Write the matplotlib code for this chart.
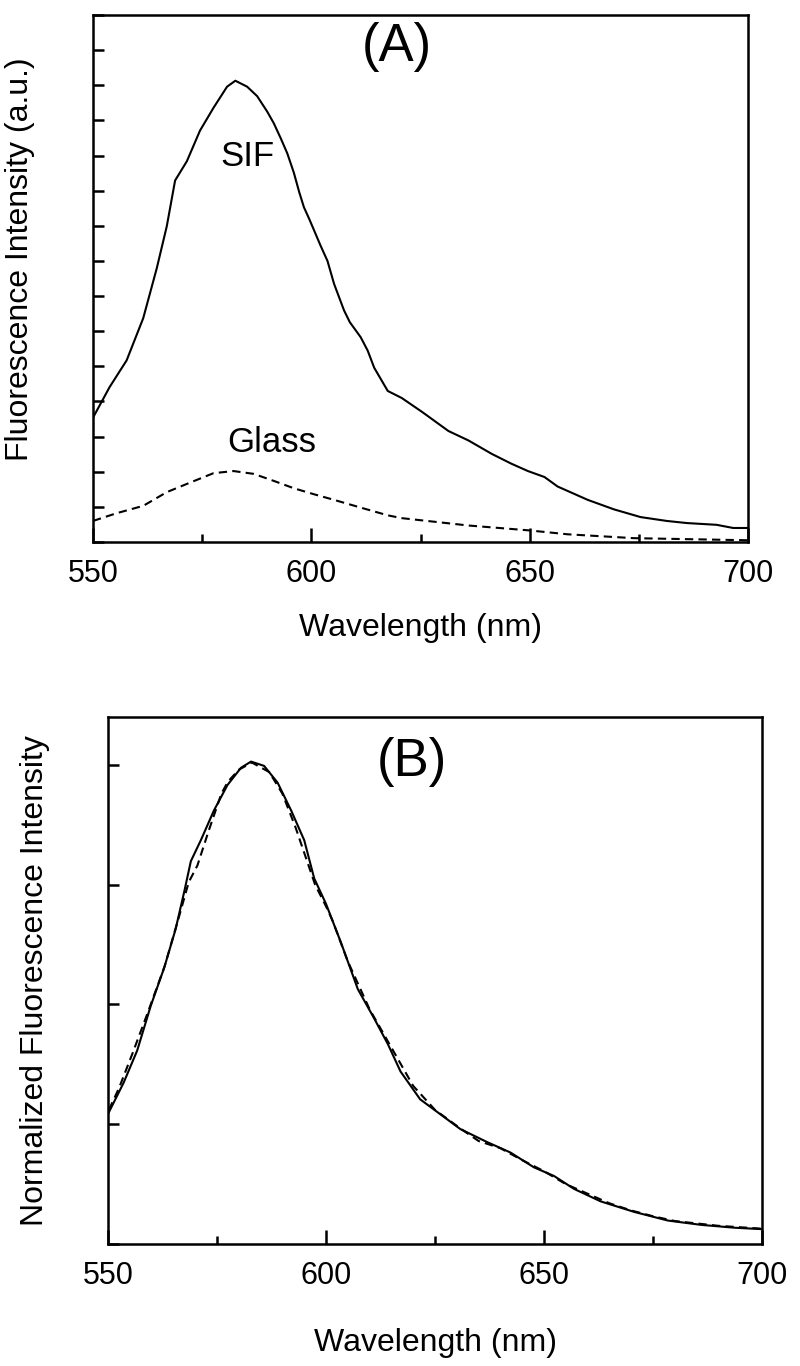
import matplotlib
matplotlib.use('Agg')
import matplotlib.pyplot as plt
import numpy as np

plt.rcParams['font.family'] = ['Liberation Sans', 'DejaVu Sans']

# panel A: raw spectra (a.u.)
sif_wl = [550.0, 553.8, 557.7, 561.5, 564.6, 566.9, 568.8, 571.5, 574.5, 577.6,
          580.7, 582.6, 585.3, 587.6, 589.9, 591.4, 593.0, 594.5, 596.0, 597.2,
          598.3, 599.5, 600.6, 602.1, 603.7, 605.2, 607.5, 608.8, 611.3, 612.9,
          614.4, 617.5, 620.7, 625.4, 631.4, 636.0, 641.3, 645.8,
          649.6, 653.4, 656.4, 663.3, 669.3, 675.4, 681.4, 686.0, 692.8, 696.6, 700.0]
sif_int = [3.54, 4.41, 5.17, 6.37, 7.79, 8.99, 10.29, 10.84, 11.71, 12.36,
           12.96, 13.13, 12.96, 12.69, 12.25, 11.92, 11.49, 11.06, 10.51, 9.97,
           9.53, 9.20, 8.88, 8.44, 8.00, 7.35, 6.59, 6.26, 5.83, 5.45,
           4.96, 4.30, 4.10, 3.70, 3.16, 2.89, 2.51, 2.23,
           2.02, 1.85, 1.58, 1.20, 0.93, 0.71, 0.60, 0.54, 0.49, 0.40, 0.40]

glass_wl = [550.0, 555.4, 561.5, 566.9, 572.2, 577.6, 582.2, 586.8, 591.4, 596.0,
            600.6, 605.2, 611.3, 617.5, 620.7, 636.0, 650.0, 658.7, 673.9, 700.0]
glass_int = [0.60, 0.82, 1.03, 1.42, 1.69, 1.96, 2.02, 1.94, 1.74, 1.53,
             1.36, 1.20, 0.98, 0.76, 0.68, 0.47, 0.33, 0.22, 0.11, 0.05]

# panel B: normalized spectra
sifn_wl = [550.2, 553.6, 556.7, 559.8, 562.9, 565.5, 567.5, 569.0, 571.3, 574.3,
           577.4, 580.5, 582.8, 585.8, 588.9, 592.0, 595.0, 597.3, 600.0, 603.4,
           607.3, 611.1, 614.2, 617.1, 621.6, 626.2, 630.8, 636.9, 642.3, 647.7,
           652.3, 656.9, 663.0, 670.7, 678.4, 686.0, 693.7, 700.0]
sifn_int = [0.275, 0.337, 0.404, 0.497, 0.577, 0.657, 0.736, 0.799, 0.843, 0.905,
            0.958, 0.994, 1.007, 0.998, 0.963, 0.905, 0.843, 0.763, 0.710, 0.630,
            0.532, 0.470, 0.417, 0.360, 0.302, 0.271, 0.240, 0.213, 0.191, 0.160,
            0.142, 0.115, 0.089, 0.067, 0.049, 0.040, 0.034, 0.031]

glassn_wl = [550.2, 552.5, 555.5, 559.0, 563.0, 566.5, 568.5, 570.5, 573.0, 576.0,
             577.5, 580.0, 583.0, 587.0, 590.0, 593.0, 596.0, 597.5, 600.0, 601.5,
             605.0, 610.0, 615.0, 620.0, 625.0, 631.0, 635.0, 640.0, 645.0, 650.0,
             655.0, 660.0, 665.0, 670.0, 675.0, 680.0, 685.0, 690.0, 700.0]
glassn_int = [0.280, 0.325, 0.395, 0.480, 0.580, 0.690, 0.755, 0.790, 0.860, 0.940,
              0.965, 0.990, 1.005, 0.985, 0.940, 0.870, 0.790, 0.750, 0.705, 0.675,
              0.590, 0.490, 0.410, 0.330, 0.280, 0.240, 0.215, 0.200, 0.175, 0.152,
              0.125, 0.105, 0.085, 0.070, 0.058, 0.048, 0.043, 0.038, 0.032]

fig = plt.figure(figsize=(8, 13.66), dpi=100)
axA = fig.add_axes([0.11625, 0.6032, 0.81875, 0.3858])
axB = fig.add_axes([0.135, 0.0893, 0.8175, 0.3858])

dash = (0, (4, 2.5))

axA.plot(sif_wl, sif_int, color='black', lw=1.5)
axA.plot(glass_wl, glass_int, color='black', lw=1.5, linestyle=dash)
axA.set_ylim(0, 15)
axA.set_yticks(np.arange(0, 16))
axA.text(585.3, 10.96, 'SIF', fontsize=25, ha='center', va='center')
axA.text(591.0, 2.82, 'Glass', fontsize=25, ha='center', va='center')
axA.text(0.464, 0.939, '(A)', transform=axA.transAxes, fontsize=38, ha='center', va='center')
axA.set_ylabel('Fluorescence Intensity (a.u.)', fontsize=23)
axA.yaxis.set_label_coords(-0.0886, 0.537)

axB.plot(sifn_wl, sifn_int, color='black', lw=1.5)
axB.plot(glassn_wl, glassn_int, color='black', lw=1.5, linestyle=dash)
axB.set_ylim(0, 1.1)
axB.set_yticks([0, 0.25, 0.5, 0.75, 1.0])
axB.text(0.464, 0.915, '(B)', transform=axB.transAxes, fontsize=38, ha='center', va='center')
axB.set_ylabel('Normalized Fluorescence Intensity', fontsize=23)
axB.yaxis.set_label_coords(-0.0887, 0.5)

for ax, ly in [(axA, -0.135), (axB, -0.159)]:
    ax.set_xlim(550, 700)
    ax.set_xticks([550, 600, 650, 700])
    ax.set_xticks([575, 625, 675], minor=True)
    ax.set_yticklabels([])
    ax.tick_params(axis='x', which='major', direction='in', length=10, width=1.8, labelsize=22, pad=12)
    ax.tick_params(axis='x', which='minor', direction='in', length=6, width=1.8)
    ax.tick_params(axis='y', direction='in', length=8, width=1.8)
    ax.set_xlabel('Wavelength (nm)', fontsize=23)
    ax.xaxis.set_label_coords(0.5, ly)
    for s in ax.spines.values():
        s.set_linewidth(1.8)

fig.savefig('out.png', dpi=100)
